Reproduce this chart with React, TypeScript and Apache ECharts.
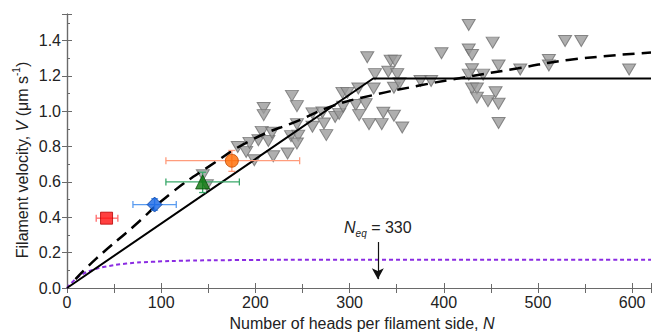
import React, { useEffect, useRef } from 'react';
import * as echarts from 'echarts';

// Gray inverted triangles (myosin heads N, velocity V)
const triN = [144.2, 148.5, 181.3, 190.2, 193.7, 198.9, 203.2, 206.7, 208.8, 208.8, 213.8, 217.7, 219.0, 234.2, 237.8, 238.8, 244.1, 244.1, 245.5, 244.1, 260.6, 271.2, 260.6, 272.8, 275.3, 284.7, 288.9, 293.1, 292.4, 297.7, 306.6, 317.1, 310.1, 309.3, 318.8, 320.6, 325.6, 327.0, 334.1, 335.8, 341.1, 343.6, 348.1, 347.1, 347.1, 350.6, 353.1, 355.9, 375.3, 386.6, 397.6, 426.5, 451.9, 426.5, 430.0, 458.2, 430.0, 426.5, 441.8, 430.0, 435.2, 435.2, 446.9, 455.0, 458.2, 458.2, 481.2, 511.6, 511.6, 528.8, 546.0, 596.8];
const triV = [0.638, 0.581, 0.798, 0.770, 0.821, 0.723, 0.836, 0.883, 1.018, 0.978, 0.832, 0.878, 0.745, 0.761, 0.859, 1.087, 1.029, 0.927, 0.862, 0.817, 0.988, 0.993, 0.912, 0.931, 0.865, 0.967, 0.985, 1.025, 1.104, 1.104, 1.035, 1.040, 0.978, 1.129, 1.305, 0.927, 1.129, 1.210, 0.927, 0.991, 1.223, 1.286, 1.286, 1.133, 0.974, 1.210, 1.158, 0.908, 1.171, 1.171, 1.328, 1.488, 1.388, 1.349, 1.318, 1.259, 1.237, 1.207, 1.207, 1.129, 1.129, 1.077, 1.057, 1.107, 1.042, 0.933, 1.236, 1.290, 1.259, 1.397, 1.397, 1.236];

// Solid model line
const solidN = [0, 325, 620];
const solidV = [0, 1.185, 1.185];

// Dashed model curve
const dashN = [9, 31, 70, 109, 150, 197, 247, 282, 324, 374, 409, 479, 532, 620];
const dashV = [0.05, 0.166, 0.345, 0.53, 0.685, 0.84, 0.95, 1.03, 1.09, 1.145, 1.18, 1.243, 1.29, 1.332];

// Purple dotted curve
const purpleN = [0, 8, 17, 28, 40, 63, 90, 130, 180, 260, 620];
const purpleV = [0, 0.045, 0.08, 0.103, 0.12, 0.138, 0.148, 0.155, 0.158, 0.16, 0.16];

// Coloured points with error bars
const ptN = [42, 93, 144, 175];
const ptV = [0.395, 0.472, 0.6, 0.72];
const ptXLo = [31, 70, 105, 105];
const ptXHi = [54, 116, 183, 247];
const ptYLo = [0.395, 0.44, 0.54, 0.66];
const ptYHi = [0.395, 0.505, 0.655, 0.778];
const ptSymbol = ['rect', 'diamond', 'triangle', 'circle'];
const ptSize = [12, 15, 14, 13];
const ptFill = ['#ff1010', '#1565e6', '#0b780b', '#ff6a00'];
const ptBorder = ['#b80000', '#0a3f9a', '#064d06', '#c04800'];
const ptErr = ['#ff6a6a', '#5a9cf0', '#3aa86a', '#ff9c7c'];

// Annotation
const neqN = 330;
const arrowV = [0.26, 0.05];
const neqLabel = '330';

const xTicks = [0, 100, 200, 300, 400, 500, 600];
const yTicks = [0, 0.2, 0.4, 0.6, 0.8, 1.0, 1.2, 1.4];

const FONT = '"Liberation Sans", Arial, sans-serif';

export default function App() {
  const ref = useRef<HTMLDivElement>(null);
  useEffect(() => {
    document.body.style.margin = '0';
    if (!ref.current) return;
    const chart = echarts.init(ref.current, undefined, { renderer: 'svg' });
    const axisColor = '#6a6a6a';
    const zip = (a: number[], b: number[]) => a.map((v, i) => [v, b[i]]);
    const option: any = {
      animation: false,
      textStyle: { fontFamily: FONT },
      grid: { left: 67, right: 1, top: 14, bottom: 45 },
      xAxis: [
        {
          type: 'value', min: 0, max: 620, interval: 100,
          axisLine: { lineStyle: { color: axisColor, width: 1.2 } },
          axisTick: { inside: true, length: 5, lineStyle: { color: axisColor } },
          minorTick: { show: true, splitNumber: 2, length: 4, lineStyle: { color: axisColor } },
          splitLine: { show: false },
          axisLabel: {
            color: '#222', fontSize: 16, fontFamily: FONT, margin: 6, showMaxLabel: false,
            formatter: (v: number) => (xTicks.includes(v) ? String(v) : ''),
          },
        },
        {
          type: 'value', position: 'top', min: 0, max: 620, interval: 50,
          axisLine: { show: true, lineStyle: { color: axisColor, width: 1.2 } },
          axisTick: { inside: true, length: 5, lineStyle: { color: axisColor } },
          axisLabel: { show: false }, splitLine: { show: false },
        },
      ],
      yAxis: [
        {
          type: 'value', min: 0, max: 1.55, interval: 0.2,
          axisLine: { show: true, lineStyle: { color: axisColor, width: 1.2 } },
          axisTick: { show: true, inside: true, length: 5, lineStyle: { color: axisColor } },
          minorTick: { show: true, splitNumber: 2, length: 3, lineStyle: { color: axisColor } },
          splitLine: { show: false },
          axisLabel: {
            color: '#222', fontSize: 16, fontFamily: FONT, margin: 6, showMaxLabel: false,
            formatter: (v: number) => (yTicks.some((t) => Math.abs(t - v) < 1e-6) ? v.toFixed(1) : ''),
          },
        },
        {
          type: 'value', position: 'right', min: 0, max: 1.55, interval: 0.2,
          axisLine: { show: true, lineStyle: { color: axisColor, width: 1.2 } },
          axisTick: { show: true, inside: true, length: 5, lineStyle: { color: axisColor } },
          axisLabel: { show: false }, splitLine: { show: false },
        },
      ],
      graphic: [
        {
          type: 'text', x: 22, y: 160, rotation: Math.PI / 2,
          style: {
            text: '{t|Filament velocity, }{i|V}{t| (μm s}{s|-1}{t|)}',
            align: 'center', verticalAlign: 'middle',
            rich: {
              t: { fontSize: 16, fontFamily: FONT, fill: '#222', lineHeight: 22 },
              i: { fontSize: 16, fontFamily: FONT, fontStyle: 'italic', fill: '#222', lineHeight: 22 },
              s: { fontSize: 10, fontFamily: FONT, fill: '#222', lineHeight: 12, verticalAlign: 'top' },
            },
          },
        },
        {
          type: 'text', x: 362, y: 323,
          style: {
            text: '{t|Number of heads per filament side, }{i|N}',
            align: 'center', verticalAlign: 'middle',
            rich: {
              t: { fontSize: 16, fontFamily: FONT, fill: '#222' },
              i: { fontSize: 16, fontFamily: FONT, fontStyle: 'italic', fill: '#222' },
            },
          },
        },
      ],
      series: [
        {
          type: 'scatter', name: 'data', z: 2,
          symbol: 'triangle', symbolRotate: 180, symbolSize: [13, 11],
          itemStyle: { color: '#9b9b9b', borderColor: '#6f6f6f', borderWidth: 1 },
          data: zip(triN, triV),
        },
        {
          type: 'line', name: 'purple', z: 3, symbol: 'none', smooth: true,
          lineStyle: { color: '#8a2be2', width: 2, type: [4, 3] },
          data: zip(purpleN, purpleV),
          markLine: {
            silent: true, symbol: ['none', 'arrow'], symbolSize: [9, 11],
            lineStyle: { color: '#111', width: 1.2, type: 'solid' },
            label: {
              show: true, position: 'start', distance: 4,
              formatter: '{n|N}{s|eq}{t| = ' + neqLabel + '}',
              rich: {
                n: { fontSize: 16, fontFamily: FONT, fontStyle: 'italic', color: '#222', lineHeight: 22 },
                s: { fontSize: 10, fontFamily: FONT, fontStyle: 'italic', color: '#222', lineHeight: 12, verticalAlign: 'bottom' },
                t: { fontSize: 16, fontFamily: FONT, color: '#222', lineHeight: 22 },
              },
            },
            data: [[{ coord: [neqN, arrowV[0]] }, { coord: [neqN, arrowV[1]] }]],
          },
        },
        {
          type: 'line', name: 'solid', z: 4, symbol: 'none',
          lineStyle: { color: '#000', width: 2 },
          data: zip(solidN, solidV),
        },
        {
          type: 'line', name: 'dashed', z: 4, symbol: 'none', smooth: true,
          lineStyle: { color: '#000', width: 2.5, type: [12, 7] },
          data: zip(dashN, dashV),
        },
        {
          type: 'custom', name: 'err', z: 5,
          renderItem: (params: any, api: any) => {
            const x = api.value(0), y = api.value(1);
            const c = api.coord([x, y]);
            const pl = api.coord([api.value(2), y]);
            const ph = api.coord([api.value(3), y]);
            const yl = api.coord([x, api.value(4)]);
            const yh = api.coord([x, api.value(5)]);
            const style = { stroke: ptErr[params.dataIndex], lineWidth: 1.3 };
            const cap = 3.5;
            const children: any[] = [
              { type: 'line', shape: { x1: pl[0], y1: c[1], x2: ph[0], y2: c[1] }, style },
              { type: 'line', shape: { x1: pl[0], y1: c[1] - cap, x2: pl[0], y2: c[1] + cap }, style },
              { type: 'line', shape: { x1: ph[0], y1: c[1] - cap, x2: ph[0], y2: c[1] + cap }, style },
            ];
            if (Math.abs(yl[1] - yh[1]) > 1) {
              children.push(
                { type: 'line', shape: { x1: c[0], y1: yl[1], x2: c[0], y2: yh[1] }, style },
                { type: 'line', shape: { x1: c[0] - cap, y1: yl[1], x2: c[0] + cap, y2: yl[1] }, style },
                { type: 'line', shape: { x1: c[0] - cap, y1: yh[1], x2: c[0] + cap, y2: yh[1] }, style },
              );
            }
            return { type: 'group', children };
          },
          data: ptN.map((n, i) => [n, ptV[i], ptXLo[i], ptXHi[i], ptYLo[i], ptYHi[i]]),
        },
        {
          type: 'scatter', name: 'points', z: 6,
          data: ptN.map((n, i) => ({
            value: [n, ptV[i]],
            symbol: ptSymbol[i],
            symbolSize: ptSize[i],
            itemStyle: { color: ptFill[i], borderColor: ptBorder[i], borderWidth: 1 },
          })),
        },
      ],
    };
    chart.setOption(option);
    return () => chart.dispose();
  }, []);
  return <div ref={ref} style={{ width: 652, height: 333 }} />;
}
